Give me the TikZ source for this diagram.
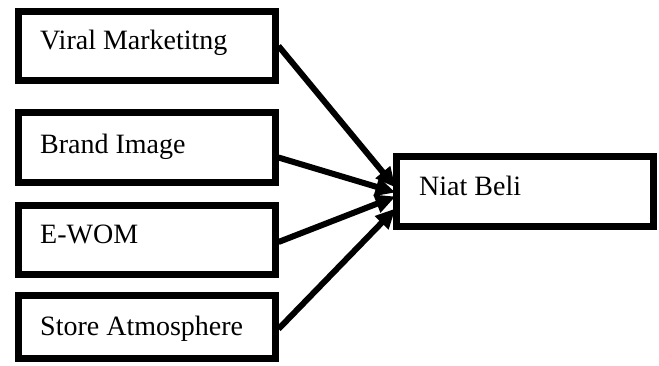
\documentclass[tikz,border=0pt]{standalone}
\usepackage{fontspec}
\setmainfont{Liberation Serif}
\usetikzlibrary{arrows.meta,calc}
\begin{document}
\begin{tikzpicture}[x=1pt,y=-1pt,
  box/.style={draw=black,line width=7pt,minimum width=257pt,inner sep=0pt,outer sep=0pt},
  lbl/.style={anchor=base west,inner sep=0pt,font=\fontsize{28}{31}\selectfont},
  conn/.style={line width=6pt,-{Triangle[length=20pt,width=18pt]}}]
\useasboundingbox (0,0) rectangle (659,365);
\node[box,minimum height=69pt] (b1) at (147,46) {};
\node[box,minimum height=70pt] (b2) at (147,147.5) {};
\node[box,minimum height=69pt] (b3) at (147,240) {};
\node[box,minimum height=63pt] (b4) at (147,327) {};
\node[box,minimum height=70pt] (nb) at (525,191.5) {};
\node[lbl] (t1) at (40,49.5) {Viral Marketitng};
\node[lbl] (t2) at (40,153) {Brand Image};
\node[lbl] (t3) at (40,243.5) {E-WOM};
\node[lbl] (t4) at (40,335) {Store Atmosphere};
\node[lbl] (t5) at (419,195) {Niat Beli};
\coordinate (e1) at ($(nb.west)+(-1,-4)$);
\coordinate (e2) at ($(nb.west)+(-1,1)$);
\coordinate (e3) at ($(nb.west)+(-1,5)$);
\coordinate (e4) at ($(nb.west)+(-1,17)$);
\draw[conn] ($(b1.east)+(3,0)$) -- (e1);
\draw[conn] ($(b2.east)+(3,10)$) -- (e2);
\draw[conn] ($(b3.east)+(3,2)$) -- (e3);
\draw[conn] ($(b4.east)+(3,2)$) -- (e4);
\end{tikzpicture}
\end{document}
